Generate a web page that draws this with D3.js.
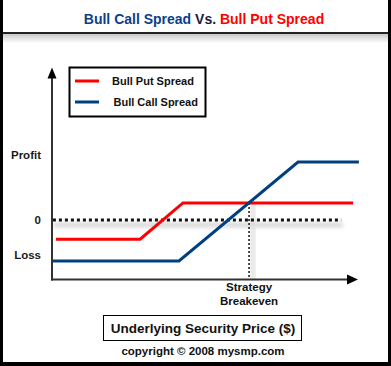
<!DOCTYPE html>
<html><head><meta charset="utf-8">
<script src="https://cdn.jsdelivr.net/npm/d3@7/dist/d3.min.js"></script>
<style>body{margin:0;background:#fff}svg{display:block}text{font-family:"Liberation Sans",Arial,sans-serif}</style>
</head><body>
<svg id="c" width="391" height="366"></svg>
<script>
// Data
const putPrice = [1.3, 28.8, 42.8, 98.4];
const putProfit = [-1.07, -1.07, 0.94, 0.94];
const callPrice = [0.3, 41.5, 80.4, 100.3];
const callProfit = [-2.28, -2.28, 3.21, 3.21];
const breakevenPrice = 64.4;
const yLabels = [{t:"Profit", v:3.6}, {t:"0", v:0}, {t:"Loss", v:-1.95}];
const seriesNames = ["Bull Put Spread", "Bull Call Spread"];
const seriesColors = ["#ff0000", "#004080"];

const svg = d3.select("#c");
const x = d3.scaleLinear().domain([0, 100]).range([52, 358]);
const y = d3.scaleLinear().domain([-3.3, 8.4]).range([279.4, 68.4]);

const defs = svg.append("defs");
const f = defs.append("filter").attr("id","blur").attr("x","-20%").attr("y","-200%").attr("width","140%").attr("height","500%");
f.append("feGaussianBlur").attr("stdDeviation", 2);
const g1 = defs.append("linearGradient").attr("id","tg").attr("x1",0).attr("y1",0).attr("x2",0).attr("y2",1);
g1.append("stop").attr("offset",0).attr("stop-color","#c8c8c8");
g1.append("stop").attr("offset",1).attr("stop-color","#ffffff");

// frame
svg.append("rect").attr("x",0).attr("y",0).attr("width",391).attr("height",366).attr("fill","#fff");
svg.append("rect").attr("x",3).attr("y",34).attr("width",385).attr("height",9).attr("fill","url(#tg)");
svg.append("line").attr("x1",0).attr("x2",389).attr("y1",33).attr("y2",33).attr("stroke","#222").attr("stroke-width",2);
svg.append("rect").attr("x",0).attr("y",0).attr("width",3).attr("height",366).attr("fill","#000");
svg.append("rect").attr("x",388).attr("y",0).attr("width",3).attr("height",366).attr("fill","#000");
svg.append("rect").attr("x",0).attr("y",362).attr("width",391).attr("height",4).attr("fill","#000");

// title
const title = svg.append("text").attr("x",204).attr("y",24).attr("text-anchor","middle")
  .attr("font-size",14).attr("font-weight","bold");
title.append("tspan").attr("fill","#0b3f8a").text("Bull Call Spread ");
title.append("tspan").attr("fill","#1a1a40").text("Vs. ");
title.append("tspan").attr("fill","#ff0000").text("Bull Put Spread");

// shadows
svg.append("rect").attr("x",x(0.5)).attr("y",y(0)+3).attr("width",x(95)-x(0.5)).attr("height",4)
  .attr("fill","#cfcfcf").attr("filter","url(#blur)");
svg.append("rect").attr("x",x(breakevenPrice)+2).attr("y",y(0.94)).attr("width",4).attr("height",y(-3.3)-y(0.94))
  .attr("fill","#dcdcdc").attr("filter","url(#blur)");

// zero line
svg.append("line").attr("x1",x(0.3)).attr("x2",x(94.5)).attr("y1",y(0)).attr("y2",y(0))
  .attr("stroke","#111").attr("stroke-width",3).attr("stroke-dasharray","3,3");
// breakeven vertical
svg.append("line").attr("x1",x(breakevenPrice)).attr("x2",x(breakevenPrice)).attr("y1",y(0.94)).attr("y2",y(-3.3))
  .attr("stroke","#111").attr("stroke-width",1.5).attr("stroke-dasharray","2,2");

// axes
svg.append("line").attr("x1",x(0)).attr("x2",x(0)).attr("y1",y(-3.3)+1).attr("y2",y(8.2)).attr("stroke","#333").attr("stroke-width",2);
svg.append("line").attr("x1",x(0)-1).attr("x2",x(97)).attr("y1",y(-3.3)).attr("y2",y(-3.3)).attr("stroke","#333").attr("stroke-width",2);
svg.append("path").attr("d",`M${x(0)},${y(8.4)-1} L${x(0)-4.5},${y(8.4)+10} L${x(0)+4.5},${y(8.4)+10}Z`).attr("fill","#000");
svg.append("path").attr("d",`M${x(100)},${y(-3.3)} L${x(100)-11},${y(-3.3)-5} L${x(100)-11},${y(-3.3)+5}Z`).attr("fill","#000");

// series
const line = d3.line().x(d=>x(d[0])).y(d=>y(d[1]));
svg.append("path").datum(putPrice.map((p,i)=>[p,putProfit[i]])).attr("d",line)
  .attr("fill","none").attr("stroke",seriesColors[0]).attr("stroke-width",3);
svg.append("path").datum(callPrice.map((p,i)=>[p,callProfit[i]])).attr("d",line)
  .attr("fill","none").attr("stroke",seriesColors[1]).attr("stroke-width",3);

// y labels
yLabels.forEach(l=>{
  svg.append("text").attr("x",41).attr("y",y(l.v)+4).attr("text-anchor","end")
    .attr("font-size",11.5).attr("font-weight","bold").attr("fill","#1a1a1a").text(l.t);
});

// breakeven label
svg.append("text").attr("x",x(breakevenPrice)).attr("y",291).attr("text-anchor","middle").attr("font-size",11.5).attr("font-weight","bold").attr("fill","#111").text("Strategy");
svg.append("text").attr("x",x(breakevenPrice)).attr("y",304.5).attr("text-anchor","middle").attr("font-size",11.5).attr("font-weight","bold").attr("fill","#111").text("Breakeven");

// legend
svg.append("rect").attr("x",69.5).attr("y",67.5).attr("width",136).attr("height",49).attr("fill","#fff").attr("stroke","#000").attr("stroke-width",2);
seriesNames.forEach((n,i)=>{
  const yy = 81 + i*21;
  svg.append("line").attr("x1",75).attr("x2",99).attr("y1",yy).attr("y2",yy).attr("stroke",seriesColors[i]).attr("stroke-width",3);
  svg.append("text").attr("x",112 + i*1.5).attr("y",yy+4).attr("font-size",11).attr("font-weight","bold").attr("fill","#111").text(n);
});

// x label box
svg.append("rect").attr("x",103.5).attr("y",315.5).attr("width",198).attr("height",25).attr("fill","#fff").attr("stroke","#000").attr("stroke-width",1);
svg.append("text").attr("x",203).attr("y",333).attr("text-anchor","middle").attr("font-size",13.5).attr("font-weight","bold").attr("fill","#111").text("Underlying Security Price ($)");
svg.append("text").attr("x",203).attr("y",355).attr("text-anchor","middle").attr("font-size",11.5).attr("font-weight","bold").attr("fill","#111").text("copyright © 2008 mysmp.com");
</script>
</body></html>
